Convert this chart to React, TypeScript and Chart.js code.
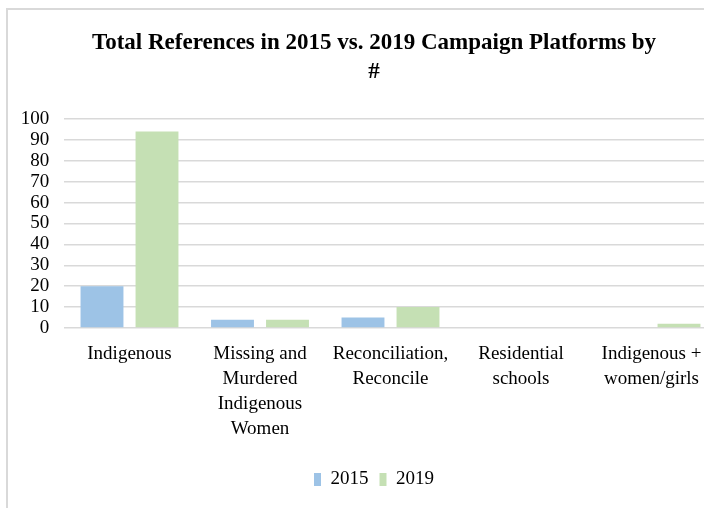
import React, { useEffect, useRef } from "react";
import { Chart, registerables } from "chart.js";

Chart.register(...registerables);

const categories: string[][] = [
  ["Indigenous"],
  ["Missing and", "Murdered", "Indigenous", "Women"],
  ["Reconciliation,", "Reconcile"],
  ["Residential", "schools"],
  ["Indigenous +", "women/girls"],
];
const seriesNames = ["2015", "2019"];
const values2015 = [20, 4, 5, 0, 0];
const values2019 = [94, 4, 10, 0, 2];
const titleLines = ["Total References in 2015 vs. 2019 Campaign Platforms by", "#"];
const yMin = 0;
const yMax = 100;
const yStep = 10;

const FONT = "'Liberation Serif', 'Times New Roman', serif";

export default function App() {
  const ref = useRef<HTMLCanvasElement | null>(null);

  useEffect(() => {
    if (!ref.current) return;
    const chart = new Chart(ref.current, {
      type: "bar",
      data: {
        labels: categories,
        datasets: [
          {
            label: seriesNames[0],
            data: values2015,
            backgroundColor: "#9dc3e6",
            borderWidth: 0,
            categoryPercentage: 0.843,
            barPercentage: 0.78,
          },
          {
            label: seriesNames[1],
            data: values2019,
            backgroundColor: "#c5e0b4",
            borderWidth: 0,
            categoryPercentage: 0.843,
            barPercentage: 0.78,
          },
        ],
      },
      options: {
        responsive: false,
        animation: false,
        devicePixelRatio: 1,
        layout: { padding: 0 },
        plugins: {
          title: {
            display: true,
            text: titleLines,
            color: "#000",
            font: { family: FONT, size: 23, weight: "bold", lineHeight: 29 / 23 },
            padding: { top: 18.5, bottom: 32.5 },
          },
          legend: {
            display: true,
            position: "bottom",
            labels: {
              color: "#000",
              font: { family: FONT, size: 19 },
              boxWidth: 7,
              boxHeight: 13,
              padding: 11,
            },
          },
          tooltip: { enabled: false },
        },
        scales: {
          x: {
            grid: { display: false, drawTicks: false },
            border: { display: false },
            ticks: {
              color: "#000",
              font: { family: FONT, size: 19, lineHeight: 25 / 19 },
              padding: 13.5,
              maxRotation: 0,
              autoSkip: false,
            },
            afterFit: (scale: any) => {
              scale.height = 131;
            },
          },
          y: {
            min: yMin,
            max: yMax,
            grid: { color: "#d9d9d9", lineWidth: 1.5, drawTicks: false },
            border: { display: false },
            ticks: {
              stepSize: yStep,
              autoSkip: false,
              color: "#000",
              font: { family: FONT, size: 19 },
              padding: 15,
            },
            afterFit: (scale: any) => {
              scale.width = 44.25;
            },
          },
          spacer: {
            type: "linear",
            position: "right",
            display: true,
            grid: { display: false, drawTicks: false },
            border: { display: false },
            ticks: { display: false },
            afterFit: (scale: any) => {
              scale.width = 11.25;
            },
          },
        },
      },
    });
    return () => chart.destroy();
  }, []);

  return (
    <div
      style={{
        position: "fixed",
        left: 0,
        top: 0,
        width: 704,
        height: 508,
        overflow: "hidden",
        background: "#fff",
      }}
    >
      <div
        style={{
          position: "absolute",
          left: 6,
          top: 8,
          width: 760,
          height: 540,
          borderLeft: "2px solid #d9d9d9",
          borderTop: "2px solid #d9d9d9",
        }}
      >
        <canvas
          ref={ref}
          width={708}
          height={489}
          style={{ position: "absolute", left: 12, top: 0, width: 708, height: 489, display: "block" }}
        />
      </div>
    </div>
  );
}
